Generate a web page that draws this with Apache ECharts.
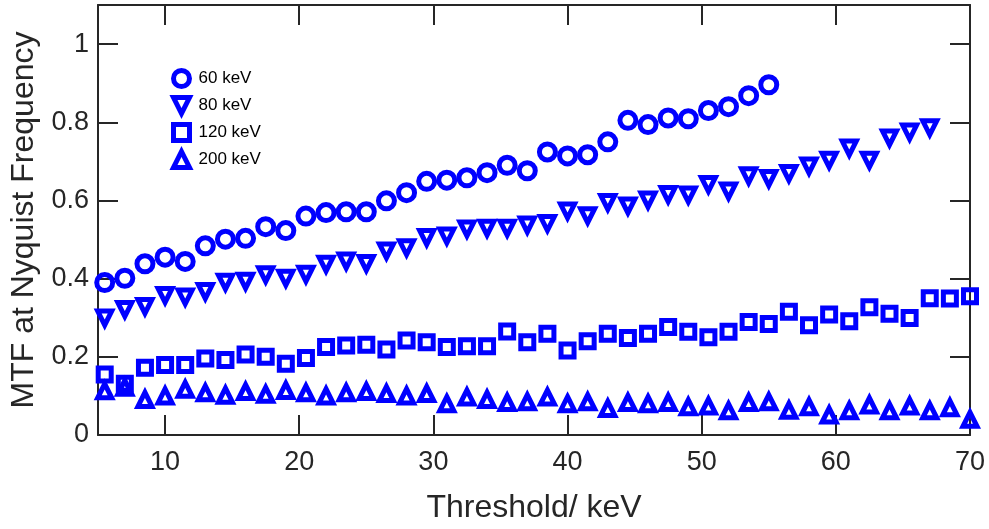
<!DOCTYPE html>
<html>
<head>
<meta charset="utf-8">
<script src="https://cdn.jsdelivr.net/npm/echarts@6/dist/echarts.min.js"></script>
<style>
  html, body { margin: 0; padding: 0; background: #fff; }
  #chart { width: 989px; height: 529px; }
</style>
</head>
<body>
<div id="chart"></div>
<script>
// Detector threshold settings (keV)
const thresholds = [5.5, 7, 8.5, 10, 11.5, 13, 14.5, 16, 17.5, 19, 20.5, 22, 23.5, 25, 26.5, 28, 29.5, 31, 32.5, 34, 35.5, 37,
  38.5, 40, 41.5, 43, 44.5, 46, 47.5, 49, 50.5, 52, 53.5, 55, 56.5, 58, 59.5, 61, 62.5, 64, 65.5, 67, 68.5, 70];

// MTF at the Nyquist frequency for each tube energy
const mtf60 = [0.390, 0.401, 0.438, 0.455, 0.444, 0.484, 0.501, 0.503, 0.533, 0.523,
  0.560, 0.569, 0.571, 0.571, 0.599, 0.620, 0.649, 0.652, 0.658, 0.671,
  0.690, 0.676, 0.724, 0.714, 0.717, 0.750, 0.805, 0.794, 0.811, 0.809,
  0.830, 0.840, 0.868, 0.896];
const mtf80 = [0.299, 0.321, 0.329, 0.357, 0.353, 0.367, 0.391, 0.393, 0.410, 0.401,
  0.411, 0.437, 0.445, 0.439, 0.471, 0.479, 0.505, 0.509, 0.527, 0.529,
  0.529, 0.537, 0.541, 0.573, 0.561, 0.595, 0.586, 0.601, 0.615, 0.614,
  0.641, 0.624, 0.663, 0.656, 0.669, 0.688, 0.703, 0.734, 0.703, 0.760,
  0.775, 0.786];
const mtf120 = [0.155, 0.131, 0.172, 0.179, 0.179, 0.196, 0.192, 0.206, 0.200, 0.182,
  0.197, 0.225, 0.229, 0.231, 0.219, 0.242, 0.237, 0.225, 0.227, 0.227,
  0.265, 0.237, 0.259, 0.216, 0.240, 0.259, 0.248, 0.259, 0.276, 0.264,
  0.250, 0.264, 0.289, 0.284, 0.315, 0.281, 0.308, 0.291, 0.327, 0.310,
  0.299, 0.350, 0.349, 0.355];
const mtf200 = [0.113, 0.122, 0.091, 0.100, 0.117, 0.108, 0.102, 0.111, 0.104, 0.114,
  0.108, 0.100, 0.108, 0.111, 0.106, 0.100, 0.106, 0.080, 0.097, 0.091,
  0.083, 0.085, 0.097, 0.080, 0.085, 0.068, 0.083, 0.080, 0.083, 0.072,
  0.074, 0.062, 0.083, 0.085, 0.063, 0.072, 0.051, 0.062, 0.077, 0.062,
  0.074, 0.062, 0.070, 0.040];

const seriesNames = ['60 keV', '80 keV', '120 keV', '200 keV'];
const xTicks = [10, 20, 30, 40, 50, 60, 70];
const yTicks = [0, 0.2, 0.4, 0.6, 0.8, 1];

const INK = '#262626';
const BLUE = '#0000ff';
const FONT = 'Liberation Sans, Arial, Helvetica, sans-serif';
// downward-pointing triangle marker
const TRI_DOWN = 'path://M0,0L10,0L5,10Z';

function pairs(values) {
  return values.map((v, i) => [thresholds[i], v]);
}

const lineStyle = { color: INK, width: 2 };

function frameAxis(extra) {
  return Object.assign({
    type: 'value',
    axisLine: { show: true, onZero: false, lineStyle: lineStyle },
    splitLine: { show: false },
  }, extra);
}

function ticks(values) {
  return { show: true, inside: true, length: 20, lineStyle: lineStyle, customValues: values };
}

const markerStyle = { color: 'rgba(0,0,0,0)', borderColor: BLUE, borderWidth: 5, opacity: 1 };

function scatter(name, values, symbol, size) {
  return {
    name: name,
    type: 'scatter',
    data: pairs(values),
    symbol: symbol,
    symbolSize: size,
    symbolKeepAspect: false,
    itemStyle: markerStyle,
    emphasis: { disabled: true },
    silent: true,
  };
}

const chart = echarts.init(document.getElementById('chart'), null, { renderer: 'canvas' });
chart.setOption({
  animation: false,
  backgroundColor: '#fff',
  textStyle: { fontFamily: FONT },
  grid: { left: 98, right: 19, top: 5, bottom: 92, containLabel: false },
  legend: {
    orient: 'vertical',
    left: 166,
    top: 63,
    itemWidth: 16,
    itemHeight: 16,
    itemGap: 6,
    data: seriesNames,
    itemStyle: { borderWidth: 5, opacity: 1 },
    textStyle: { fontSize: 17, color: '#000', fontFamily: FONT, padding: [0, 0, 0, 4] },
    selectedMode: false,
  },
  xAxis: [
    frameAxis({
      position: 'bottom', min: 5, max: 70,
      axisTick: ticks(xTicks),
      axisLabel: { customValues: xTicks, fontSize: 27, color: INK, margin: 14, fontFamily: FONT },
      name: 'Threshold/ keV', nameLocation: 'middle', nameGap: 57,
      nameTextStyle: { fontSize: 32, color: INK, fontFamily: FONT },
    }),
    frameAxis({
      position: 'top', min: 5, max: 70,
      axisTick: ticks(xTicks),
      axisLabel: { show: false },
    }),
  ],
  yAxis: [
    frameAxis({
      position: 'left', min: 0, max: 1.1,
      axisTick: ticks(yTicks),
      axisLabel: { customValues: yTicks, fontSize: 27, color: INK, margin: 9, fontFamily: FONT },
      name: 'MTF at Nyquist Frequency', nameLocation: 'middle', nameGap: 55,
      nameTextStyle: { fontSize: 32, color: INK, fontFamily: FONT },
    }),
    frameAxis({
      position: 'right', min: 0, max: 1.1,
      axisTick: ticks(yTicks),
      axisLabel: { show: false },
    }),
  ],
  series: [
    scatter(seriesNames[0], mtf60, 'circle', 16),
    scatter(seriesNames[1], mtf80, TRI_DOWN, 14),
    scatter(seriesNames[2], mtf120, 'rect', 13),
    scatter(seriesNames[3], mtf200, 'triangle', 14),
  ],
});
</script>
</body>
</html>
